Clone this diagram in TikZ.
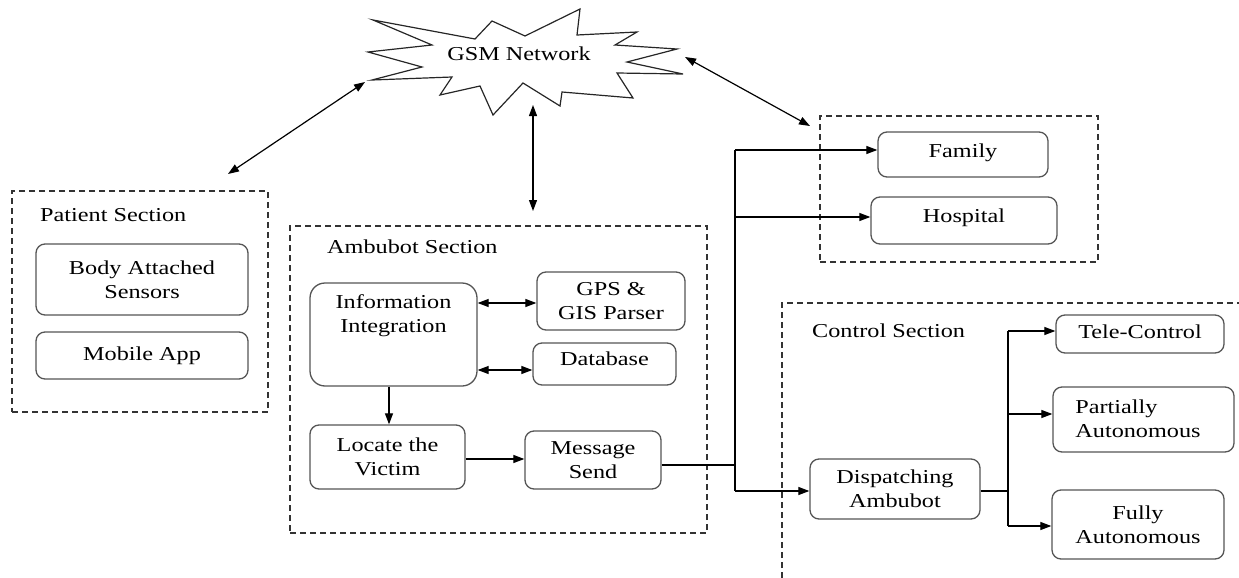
\documentclass[tikz,border=0pt]{standalone}
\usepackage{fontspec}
\setmainfont{Liberation Serif}[FakeStretch=1.23]
\usetikzlibrary{arrows.meta,calc}
\definecolor{boxgray}{HTML}{555555}
\definecolor{dashgray}{HTML}{333333}
\tikzset{
  box/.style={draw=boxgray, line width=1.3pt, rounded corners=9pt, align=center, inner sep=2pt},
  sect/.style={draw=dashgray, line width=1.4pt, dash pattern=on 6pt off 4pt},
  tip/.tip={Triangle[length=11pt,width=8pt]},
  conn/.style={line width=1.2pt, -tip},
  dconn/.style={line width=1.2pt, tip-tip},
  plain/.style={line width=1.2pt},
  lbl/.style={anchor=west, inner sep=0pt},
  txt/.style={align=center, inner sep=0pt}
}
\begin{document}
\begin{tikzpicture}[x=1pt,y=-1pt, every node/.append style={font=\fontsize{19.7pt}{24pt}\selectfont}]
\useasboundingbox (0,0) rectangle (1239,578);

% GSM cloud
\draw[line width=1.2pt, draw=black!85] (373,20) -- (475,39) -- (492,21) -- (525,36) -- (580,9) -- (577,35)
  -- (637,32) -- (615,45) -- (677,49) -- (627,62) -- (683,74) -- (617,73) -- (633,98)
  -- (562,92) -- (560,106) -- (523,83) -- (493,115) -- (480,86) -- (440,95) -- (452,77)
  -- (372,80) -- (422,67) -- (368,52) -- (432,45) -- cycle;
\node[txt] (gsm) at (519,54) {GSM Network};

% Sections
\node[sect, minimum width=256pt, minimum height=221pt] (ps) at (140,301.5) {};
\node[lbl] (pslbl) at (40,215) {Patient Section};
\node[sect, minimum width=417pt, minimum height=307pt] (as) at (498.5,379.5) {};
\node[lbl] (aslbl) at (327,247) {Ambubot Section};
\node[sect, minimum width=278pt, minimum height=146pt] (fs) at (959,189) {};
\draw[sect] (782,578) -- (782,303) -- (1239,303);
\node[lbl] (cslbl) at (812,331) {Control Section};

% Patient boxes
\node[box, minimum width=212pt, minimum height=71pt] (body) at (142,279.5) {Body Attached\\Sensors};
\node[box, minimum width=212pt, minimum height=47pt] (mobile) at (142,355.5) {Mobile App};

% Ambubot boxes
\node[box, rounded corners=15pt, minimum width=167pt, minimum height=103pt] (info) at (393.5,334.5) {};
\node[txt] (infotxt) at (393.5,316) {Information\\Integration};
\node[box, minimum width=148pt, minimum height=58pt] (gps) at (611,301) {GPS \&\\GIS Parser};
\node[box, minimum width=143pt, minimum height=42pt] (db) at (604.5,364) {};
\node[txt] (dbtxt) at (604.5,359) {Database};
\node[box, minimum width=155pt, minimum height=64pt] (locate) at (387.5,457) {Locate the\\Victim};
\node[box, minimum width=136pt, minimum height=58pt] (msg) at (593,460) {Message\\Send};

% Family section
\node[box, minimum width=170pt, minimum height=45pt] (family) at (963,154.5) {};
\node[txt] (familytxt) at (963,153) {Family};
\node[box, minimum width=186pt, minimum height=47pt] (hospital) at (964,220.5) {};
\node[txt] (hospitaltxt) at (964,218) {Hospital};

% Control section
\node[box, minimum width=170pt, minimum height=60pt] (disp) at (895,489) {Dispatching\\Ambubot};
\node[box, minimum width=168pt, minimum height=38pt] (tele) at (1140,334) {};
\node[txt] (teletxt) at (1140,332) {Tele-Control};
\node[box, minimum width=181pt, minimum height=65pt] (partial) at (1143.5,419.5) {};
\node[txt, align=left] (partialtxt) at (1138,419) {Partially\\Autonomous};
\node[box, minimum width=172pt, minimum height=69pt] (fully) at (1138,524.5) {Fully\\Autonomous};

% GSM links
\coordinate (g1) at (365,82); \coordinate (p1) at (228,174);
\draw[dconn] (p1) -- (g1);
\coordinate (g2) at (533,105); \coordinate (a1) at (533,211);
\draw[dconn] (g2) -- (a1);
\coordinate (g3) at (685,57); \coordinate (f1) at (810,126);
\draw[dconn] (g3) -- (f1);

% Ambubot internal
\draw[dconn] (info.east |- 0,303) -- (gps.west |- 0,303);
\draw[dconn] (info.east |- 0,370) -- (db.west |- 0,370);
\draw[conn] (info.south -| 389,0) -- (locate.north -| 389,0);
\draw[conn] (locate.east |- 0,459) -- (msg.west |- 0,459);

% Message to outside
\coordinate (bus1) at (735,465);
\coordinate (bustop) at (735,150);
\coordinate (busbot) at (735,491);
\draw[plain] (msg.east |- bus1) -- (bus1);
\draw[plain] (bustop) -- (busbot);
\draw[conn] (bustop) -- (family.west |- bustop);
\draw[conn] (735,217) -- (hospital.west |- 0,217);
\draw[conn] (busbot) -- (disp.west |- busbot);

% Dispatch branches
\coordinate (br) at (1008,491);
\coordinate (brtop) at (1008,331);
\coordinate (brbot) at (1008,526);
\draw[plain] (disp.east |- br) -- (br);
\draw[plain] (brtop) -- (brbot);
\draw[conn] (brtop) -- (tele.west |- brtop);
\draw[conn] (1008,414) -- (partial.west |- 0,414);
\draw[conn] (brbot) -- (fully.west |- brbot);
\end{tikzpicture}
\end{document}
